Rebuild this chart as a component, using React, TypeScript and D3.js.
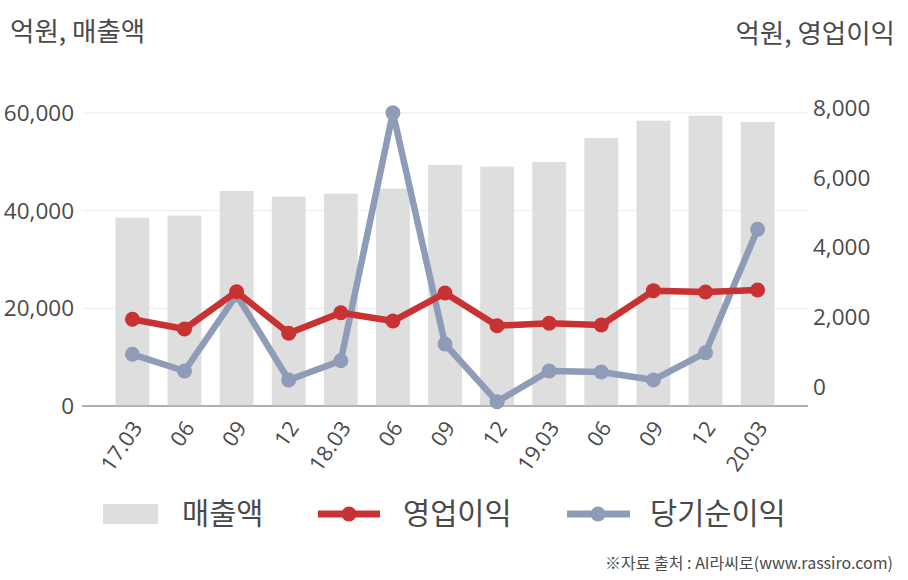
import React from "react";
import * as d3 from "d3";

const categories = ["17.03", "06", "09", "12", "18.03", "06", "09", "12", "19.03", "06", "09", "12", "20.03"];
const sales = [38560, 38970, 44030, 42860, 43480, 44500, 49350, 49010, 49970, 54880, 58430, 59450, 58160];
const operatingProfit = [1941, 1663, 2733, 1540, 2131, 1892, 2695, 1758, 1826, 1778, 2762, 2724, 2781];
const netIncome = [937, 459, 2638, 201, 754, 7865, 1233, -421, 459, 430, 201, 984, 4522];
const leftTicks = [0, 20000, 40000, 60000];
const rightTicks = [0, 2000, 4000, 6000, 8000];
const legendLabels = ["매출액", "영업이익", "당기순이익"];

const W = 908;
const H = 580;
const FONT = "'Open Sans', 'Noto Sans CJK KR', sans-serif";
const KFONT = "'Noto Sans CJK KR', 'Open Sans', sans-serif";

export default function App() {
  const x0 = 82, x1 = 808, yBottom = 406, yTop = 113;
  const x = d3.scaleBand<number>().domain(d3.range(categories.length)).range([x0, x1]).paddingInner(0.35).paddingOuter(0.6425);
  const yL = d3.scaleLinear().domain([0, 60000]).range([yBottom, yTop]);
  const yR = d3.scaleLinear().domain([-545, 7857]).range([yBottom, yTop]);
  const cx = (i: number) => (x(i) as number) + x.bandwidth() / 2;
  const fmt = d3.format(",");

  const opLine = d3.line<number>().x((_, i) => cx(i)).y((d) => yR(d))(operatingProfit) as string;
  const niLine = d3.line<number>().x((_, i) => cx(i)).y((d) => yR(d))(netIncome) as string;

  const RED = "#c83232";
  const BLUE = "#8f9cb7";
  const BAR = "#dedede";
  const TXT = "#4a4a4a";

  return (
    <svg width={W} height={H} style={{ position: "absolute", left: 0, top: 0, background: "#fff" }}>
      <rect width={W} height={H} fill="#fff" />
      <text x={10} y={41} fontFamily={KFONT} fontSize={26.5} fill={TXT}>억원, 매출액</text>
      <text x={895} y={43} fontFamily={KFONT} fontSize={26.5} fill={TXT} textAnchor="end">억원, 영업이익</text>

      {leftTicks.map((t) => (
        <line key={"g" + t} x1={x0} x2={x1} y1={yL(t)} y2={yL(t)} stroke={t === 0 ? "#aaaaaa" : "#ebebeb"} strokeWidth={t === 0 ? 1.5 : 1} />
      ))}
      {leftTicks.map((t) => (
        <text key={"l" + t} x={74} y={yL(t)} dy="0.35em" textAnchor="end" fontFamily={FONT} fontSize={22.5} fill={TXT}>{fmt(t)}</text>
      ))}
      {rightTicks.map((t) => (
        <text key={"r" + t} x={813} y={yR(t)} dy="0.35em" textAnchor="start" fontFamily={FONT} fontSize={22.5} fill={TXT}>{fmt(t)}</text>
      ))}

      {sales.map((v, i) => (
        <rect key={"b" + i} x={x(i)} y={yL(v)} width={x.bandwidth()} height={yBottom - yL(v)} fill={BAR} />
      ))}
      <line x1={x0} x2={x1} y1={yBottom} y2={yBottom} stroke="#aaaaaa" strokeWidth={1.5} />

      <path d={niLine} fill="none" stroke={BLUE} strokeWidth={6.5} strokeLinejoin="round" />
      {netIncome.map((v, i) => (
        <circle key={"n" + i} cx={cx(i)} cy={yR(v)} r={7.5} fill={BLUE} />
      ))}
      <path d={opLine} fill="none" stroke={RED} strokeWidth={6.5} strokeLinejoin="round" />
      {operatingProfit.map((v, i) => (
        <circle key={"o" + i} cx={cx(i)} cy={yR(v)} r={7.5} fill={RED} />
      ))}

      {categories.map((c, i) => (
        <text key={"x" + i} transform={`translate(${cx(i) + 11},${428}) rotate(-55)`} textAnchor="end" fontFamily={FONT} fontSize={21.5} fill={TXT}>{c}</text>
      ))}

      <rect x={103} y={504} width={55} height={20} fill={BAR} />
      <text x={182} y={514} dy="0.35em" fontFamily={KFONT} fontSize={29.5} fill={TXT}>{legendLabels[0]}</text>
      <line x1={318} x2={380} y1={514} y2={514} stroke={RED} strokeWidth={7} />
      <circle cx={349} cy={514} r={7.5} fill={RED} />
      <text x={403} y={514} dy="0.35em" fontFamily={KFONT} fontSize={29.5} fill={TXT}>{legendLabels[1]}</text>
      <line x1={567} x2={630} y1={514} y2={514} stroke={BLUE} strokeWidth={7} />
      <circle cx={598} cy={514} r={7.5} fill={BLUE} />
      <text x={650} y={514} dy="0.35em" fontFamily={KFONT} fontSize={29.5} fill={TXT}>{legendLabels[2]}</text>

      <text x={893} y={569} textAnchor="end" fontFamily={KFONT} fontSize={16} fill={TXT}>※자료 출처 : AI라씨로(www.rassiro.com)</text>
    </svg>
  );
}
